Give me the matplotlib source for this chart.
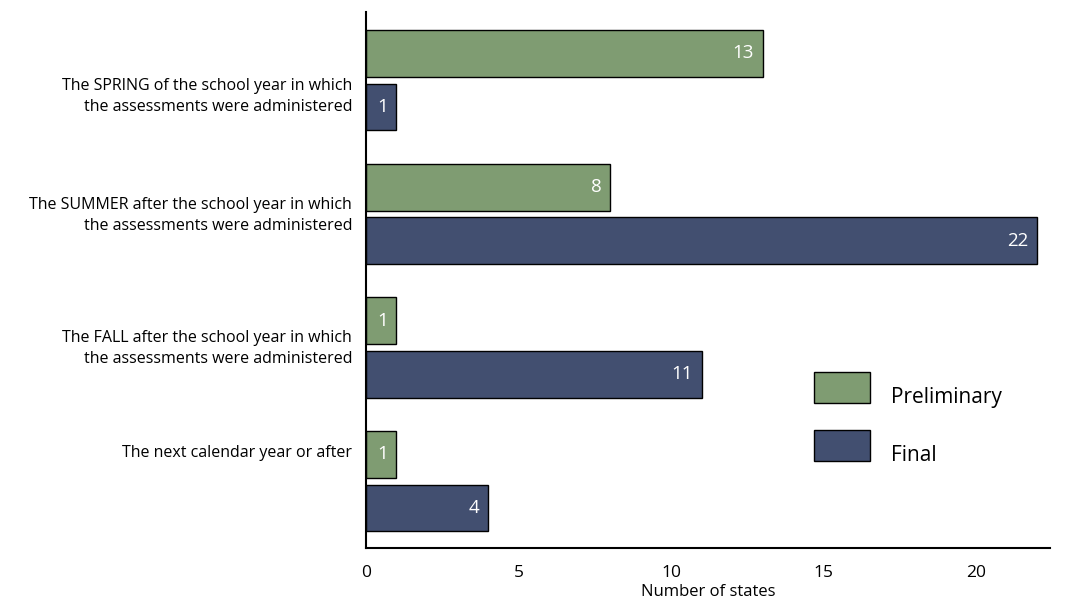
import matplotlib.pyplot as plt
from matplotlib.patches import Rectangle
import numpy as np

plt.rcParams['font.family'] = ['Open Sans', 'DejaVu Sans']

categories = ['The SPRING of the school year in which\nthe assessments were administered',
              'The SUMMER after the school year in which\nthe assessments were administered',
              'The FALL after the school year in which\nthe assessments were administered',
              'The next calendar year or after']
preliminary = [13, 8, 1, 1]
final = [1, 22, 11, 4]
series = ['Preliminary', 'Final']
xticks = [0, 5, 10, 15, 20]

GREEN = '#7f9c72'
NAVY = '#424f70'

fig = plt.figure(figsize=(10.71, 6.04), dpi=100)
ax = fig.add_axes([0.3417, 0.0927, 0.6383, 0.8874])

y = np.arange(len(categories))
h = 0.35
off = 0.2
b1 = ax.barh(y - off, preliminary, height=h, color=GREEN, edgecolor='black', linewidth=1)
b2 = ax.barh(y + off, final, height=h, color=NAVY, edgecolor='black', linewidth=1)

for bars, vals in ((b1, preliminary), (b2, final)):
    for rect, v in zip(bars, vals):
        ax.text(rect.get_width() - 0.28, rect.get_y() + rect.get_height() / 2, str(v),
                ha='right', va='center', color='white', fontsize=13.5)

# category labels sit a little off the group centre in the original
label_shift = [0.12, 0.015, 0.01, -0.21]
for i, (cat, s) in enumerate(zip(categories, label_shift)):
    ax.text(-0.45, i + s, cat, ha='right', va='center', fontsize=11.5, linespacing=1.4)

ax.set_ylim(3.5, -0.51)
ax.set_xlim(0, 22.4)
ax.set_yticks([])
ax.set_xticks(xticks)
ax.tick_params(axis='x', length=0, pad=12, labelsize=12.5)
ax.set_xlabel('Number of states', fontsize=12)
ax.xaxis.set_label_coords(0.5, -0.068)
ax.spines['right'].set_visible(False)
ax.spines['top'].set_visible(False)
ax.spines['left'].set_linewidth(1.5)
ax.spines['bottom'].set_linewidth(1.5)

# hand-placed legend, as in the original
for k, (name, col) in enumerate(zip(series, [GREEN, NAVY])):
    y0 = 0.328 - k * 0.108
    ax.add_patch(Rectangle((0.656, y0 - 0.058), 0.082, 0.058, transform=ax.transAxes,
                           facecolor=col, edgecolor='black', linewidth=1, clip_on=False))
    ax.text(0.768, y0 - 0.047, name, transform=ax.transAxes, ha='left', va='center', fontsize=15)

fig.savefig('out.png', dpi=100)
